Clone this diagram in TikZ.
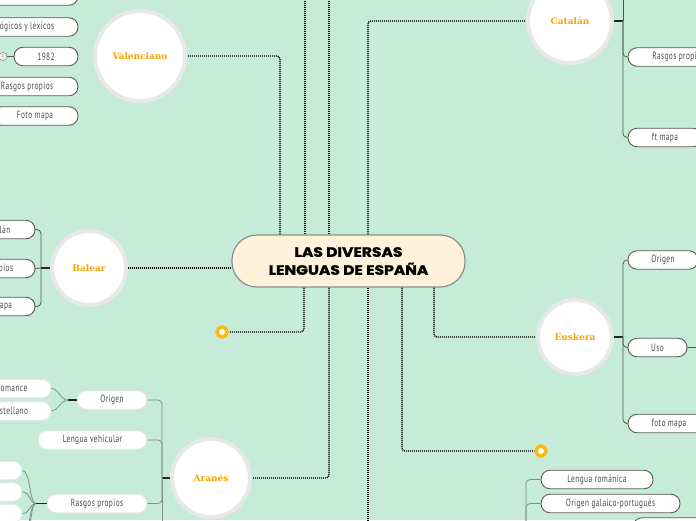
\documentclass[tikz,border=0pt]{standalone}
\usepackage{fontspec}
\setmainfont{PT Sans}
\newfontfamily\pillfont{PT Sans}[FakeStretch=0.7,LetterSpace=4]
\newfontfamily\topicfont{DejaVu Serif}
\newfontfamily\titlefont{Poppins}[BoldFeatures={FakeStretch=1.15,FakeBold=1.5}]
\usetikzlibrary{calc}
\definecolor{bgmint}{HTML}{C6EBD9}
\definecolor{cream}{HTML}{FFF2DA}
\definecolor{orangetxt}{HTML}{F7A400}
\definecolor{ringgray}{HTML}{E8E8E8}
\definecolor{pillborder}{HTML}{5A5A55}
\definecolor{lightborder}{HTML}{E6E6E6}
\definecolor{pilltext}{HTML}{4A4A4A}
\definecolor{yellowring}{HTML}{FDB913}
\definecolor{branchcol}{HTML}{4F5A55}
\definecolor{lightbranch}{HTML}{7F9088}
\tikzset{
  topic/.style={circle, fill=white, draw=ringgray, line width=4pt, inner sep=0pt,
    font=\topicfont\bfseries\fontsize{9}{10}\selectfont, text=orangetxt},
  centre/.style={rectangle, rounded corners=25pt, fill=cream, draw=gray!90, line width=1.2pt,
    align=center, font=\titlefont\bfseries\fontsize{13.5}{18}\selectfont, text=black},
  pill/.style={rectangle, rounded corners=9pt, draw=pillborder, fill=white, line width=0.9pt,
    minimum height=18.5pt, inner sep=0pt, font=\pillfont\fontsize{10.5}{11}\selectfont, text=pilltext},
  lpill/.style={pill, draw=lightborder},
  dotline/.style={draw=black, line width=1.3pt, dash pattern=on 1.2pt off 0.8pt, rounded corners=3pt},
  branch/.style={draw=branchcol, line width=0.8pt, rounded corners=4pt},
  lbranch/.style={draw=lightbranch, line width=0.8pt, rounded corners=4pt},
  stub/.style={draw=black!85, line width=1.8pt},
  ydot/.style={circle, fill=white, draw=yellowring, line width=3.5pt, minimum size=10pt, inner sep=0pt},
  numc/.style={circle, fill=white!90!gray, draw=gray, line width=0.5pt, minimum size=8pt, inner sep=0pt,
    font=\fontsize{4}{4}\selectfont, text=gray}
}
\begin{document}
\begin{tikzpicture}[x=1pt,y=-1pt]
\useasboundingbox (0,0) rectangle (696,520);
\clip (0,0) rectangle (696,520);
\fill[bgmint] (0,0) rectangle (696,520);

% central topic
\node[centre, minimum width=233pt, minimum height=52pt] (c) at (348.5,261) {LAS DIVERSAS\\LENGUAS DE ESPAÑA};

% main topics
\node[topic, minimum size=90pt] (val) at (140,56) {Valenciano};
\node[topic, minimum size=84pt] (cat) at (570,21) {Catalán};
\node[topic, minimum size=74pt] (bal) at (89,268) {Balear};
\node[topic, minimum size=74pt] (eus) at (575,337) {Euskera};
\node[topic, minimum size=78pt] (ara) at (211,478) {Aranés};
\node[ydot] (y1) at (222,332) {};
\node[ydot] (y2) at (541,451) {};

% free ends
\coordinate (up1) at (305,-5);
\coordinate (up2) at (329,-5);
\coordinate (down1) at (368,525);

% dotted connectors
\draw[dotline] (280,0 |- c.north) |- (val.east);
\draw[dotline] (305,0 |- c.north) -- (up1);
\draw[dotline] (329,0 |- c.north) -- (up2);
\draw[dotline] (368,0 |- c.north) |- (cat.west);
\draw[dotline] (c.west |- bal.east) -- (bal.east);
\draw[dotline] (304,0 |- c.south) |- (y1.east);
\draw[dotline] (329,0 |- c.south) |- (ara.east);
\draw[dotline] (368,0 |- c.south) -- (down1);
\draw[dotline] (402,0 |- c.south) |- (y2.west);
\draw[dotline] (434,0 |- c.south) |- (eus.west);

% Valenciano subtopics
\node[pill, minimum width=102pt] (v0) at (27,-4) {};
\node[pill, minimum width=102pt] (v1) at (27,27) {ógicos y léxicos};
\node[pill, minimum width=64pt] (v2) at (46,56.5) {1982};
\node[pill, minimum width=102pt] (v3) at (27,86.5) {Rasgos propios};
\node[pill, minimum width=86pt] (v4) at (35,116) {Foto mapa};
\node[numc] (n1) at (3,56.5) {1};
\draw[draw=pillborder, line width=0.8pt] (n1) -- (v2.west);

% Balear subtopics
\node[pill, minimum width=60pt] (b1) at (5,229.5) {lán};
\node[pill, minimum width=58pt] (b2) at (6,268.5) {pios};
\node[pill, minimum width=58pt] (b3) at (6,306.5) {apa};
\draw[stub] (bal.west) -- ++(-9,0) coordinate (bj);
\draw[branch] (bj) |- (b1.east);
\draw[branch] (bj) -- (b2.east);
\draw[branch] (bj) |- (b3.east);

% Catalan subtopics
\node[pill, minimum width=101pt] (cp1) at (678.5,57) {Rasgos propios};
\node[pill, minimum width=74pt] (cp2) at (665,137.5) {ft mapa};
\draw[stub] (cat.east) -- ++(9,0) coordinate (cj);
\draw[branch] (cj) -- (cj |- 0,-5);
\draw[branch] (cj) |- (cp1.west);
\draw[branch] (cj) |- (cp2.west);

% Euskera subtopics
\node[pill, minimum width=70pt] (eo) at (663,260) {Origen};
\node[pill, minimum width=59pt] (eu) at (657.5,347.5) {Uso};
\node[pill, minimum width=82pt] (ef) at (669,423.5) {foto mapa};
\coordinate (euright) at (700,347.5);
\draw[stub] (eus.east) -- ++(9,0) coordinate (ej);
\draw[branch] (ej) |- (eo.west);
\draw[branch] (ej) |- (eu.west);
\draw[branch] (ej) |- (ef.west);
\draw[branch] (eu.east) -- (euright);

% Aranes subtopics
\node[lpill, minimum width=70pt] (ao) at (112,400) {Origen};
\node[lpill, minimum width=109pt] (alv) at (92.5,440) {Lengua vehicular};
\node[lpill, minimum width=100pt] (arp) at (97,503.5) {Rasgos propios};
\node[lpill, minimum width=74pt] (rom) at (14,388.5) {omance};
\node[lpill, minimum width=74pt] (cas) at (14,411) {stellano};
\node[lpill, minimum width=40pt] (r1) at (2,470.5) {};
\node[lpill, minimum width=40pt] (r2) at (2,492) {};
\node[lpill, minimum width=40pt] (r3) at (2,513.5) {};
\coordinate (r4) at (22,536);
\coordinate (r5) at (22,556);
\draw[stub] (ara.west) -- ++(-8,0) coordinate (aj);
\draw[lbranch] (aj) |- (ao.east);
\draw[lbranch] (aj) |- (alv.east);
\draw[lbranch] (aj) |- (arp.east);
\draw[lbranch] (aj) -- (aj |- 0,525);
\draw[stub, line width=1.2pt] (ao.west) -- ++(-9,0) coordinate (oj);
\draw[lbranch] (oj) .. controls +(-7,0) and +(7,0) .. (rom.east);
\draw[lbranch] (oj) .. controls +(-7,0) and +(7,0) .. (cas.east);
\draw[stub, line width=1.2pt] (arp.west) -- ++(-11,0) coordinate (rj);
\draw[lbranch] (rj) .. controls +(-6,0) and +(8,0) .. (r1.east);
\draw[lbranch] (rj) .. controls +(-6,0) and +(8,0) .. (r2.east);
\draw[lbranch] (rj) .. controls +(-6,0) and +(8,0) .. (r3.east);
\draw[lbranch] (rj) .. controls +(-6,0) and +(8,0) .. (r4);
\draw[lbranch] (rj) .. controls +(-6,0) and +(8,0) .. (r5);

% bottom right group
\node[pill, minimum width=112pt] (lr) at (597,479.5) {Lengua románica};
\node[pill, minimum width=139pt] (og) at (610.5,503.5) {Origen galaico-portugués};
\node[pill, minimum width=90pt] (gx) at (678,527) {};
\coordinate (gbot) at (526,525);
\draw[lbranch] (gbot) |- (lr.west);
\draw[lbranch] (gbot) |- (og.west);
\end{tikzpicture}
\end{document}
